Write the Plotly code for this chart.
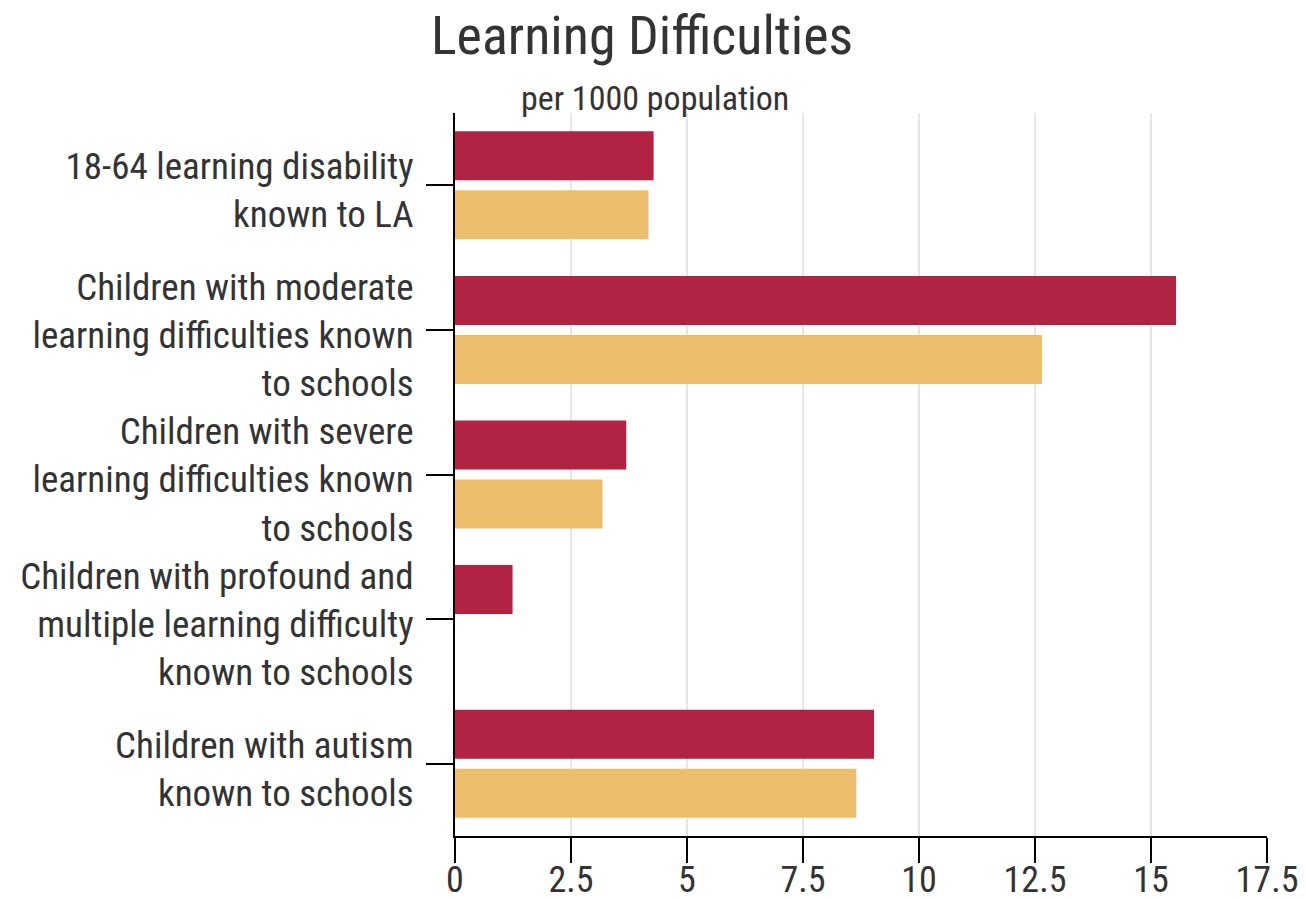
import plotly.graph_objects as go

categories = [
    "18-64 learning disability<br>known to LA",
    "Children with moderate<br>learning difficulties known<br>to schools",
    "Children with severe<br>learning difficulties known<br>to schools",
    "Children with profound and<br>multiple learning difficulty<br>known to schools",
    "Children with autism<br>known to schools",
]
series_a = [4.28, 15.54, 3.69, 1.24, 9.03]
series_b = [4.17, 12.65, 3.18, None, 8.65]

RED = "#B22241"
GOLD = "#ECBE6C"
FONT = "Roboto Condensed, Liberation Sans Narrow, DejaVu Sans Condensed, Roboto, sans-serif"
TXT = "#333333"

# page body has an 8px margin; compensate so absolute positions match
OFF = 8
W, H = 1306 - OFF, 899 - OFF
L, R, T, B = 455 - OFF, 1306 - 1267, 113 - OFF, 899 - 836

fig = go.Figure()
fig.add_trace(go.Bar(y=categories, x=series_a, orientation="h", marker_color=RED, name="A"))
fig.add_trace(go.Bar(y=categories, x=series_b, orientation="h", marker_color=GOLD, name="B"))

plot_w = W - L - R
plot_h = H - T - B

fig.update_layout(
    template="none",
    width=W, height=H,
    margin=dict(l=L, r=R, t=T, b=B, pad=0),
    paper_bgcolor="white", plot_bgcolor="white",
    barmode="group", bargap=0.184, bargroupgap=0.169,
    showlegend=False,
    font=dict(family=FONT, size=36, color=TXT),
    title=dict(text="Learning Difficulties", x=(642 - OFF) / W, xanchor="center",
               y=1 - (35 - OFF) / H, yanchor="middle", font=dict(size=54, color=TXT, family=FONT)),
    annotations=[dict(text="per 1000 population", xref="paper", yref="paper",
                      x=(655 - 455) / plot_w, y=(836 - 98) / plot_h, xanchor="center", yanchor="middle",
                      showarrow=False, font=dict(size=34, color=TXT, family=FONT))],
)
fig.update_xaxes(range=[0, 17.5], dtick=2.5, showgrid=True, gridcolor="#e6e6e6", gridwidth=2,
                 showline=True, linecolor="black", linewidth=2, automargin=False,
                 ticks="outside", ticklen=25, tickwidth=2, tickcolor="black",
                 zeroline=False, ticklabelstandoff=-14, tickfont=dict(size=36, color=TXT))
fig.update_yaxes(autorange="reversed", showline=True, linecolor="black", linewidth=2, automargin=False,
                 ticks="outside", ticklen=27, tickwidth=2, tickcolor="black",
                 showgrid=False, zeroline=False, ticklabelstandoff=5, ticklabelshift=-5,
                 tickfont=dict(size=37, color=TXT))

fig.write_html("out.html")
